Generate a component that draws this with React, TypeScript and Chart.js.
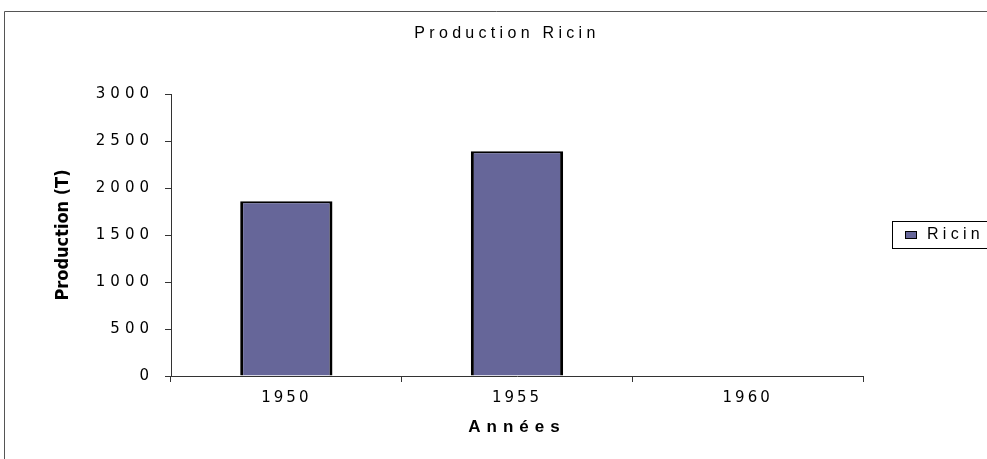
import React, { useEffect, useRef } from 'react';
import { Chart, registerables, CategoryScale, LinearScale, layouts } from 'chart.js';

// ---- data ----
const chartTitle = 'Production Ricin';
const categories = ['1950', '1955', '1960'];
const seriesLabel = 'Ricin';
const ricinValues: (number | null)[] = [1860, 2390, null];
const yAxisTitle = 'Production (T)';
const xAxisTitle = 'Années';
const yMin = 0;
const yMax = 3000;
const yStep = 500;

// ---- styles ----
const SANS = '"Liberation Sans", Arial, sans-serif';
const WIDE = '"DejaVu Sans", Verdana, sans-serif';
const NARROW = '"DejaVu Sans Condensed", "Liberation Sans Narrow", sans-serif';
const BAR_COLOR = '#666699';
const AXIS_COLOR = '#333333';
const SPACING = { title: 4.3, xTicks: 3, yTicks: 5, xTitle: 6, yTitle: 0, legend: 4.3 };

function withSpacing(ctx: any, px: number, fn: () => void) {
  ctx.save();
  ctx.letterSpacing = `${px}px`;
  fn();
  ctx.restore();
}

class SpacedCategoryScale extends CategoryScale {
  static id = 'spacedCategory';
  drawLabels(area: any) {
    withSpacing(this.ctx, SPACING.xTicks, () => super.drawLabels(area));
  }
  drawTitle() {
    withSpacing(this.ctx, SPACING.xTitle, () => super.drawTitle());
  }
}

class SpacedLinearScale extends LinearScale {
  static id = 'spacedLinear';
  drawLabels(area: any) {
    withSpacing(this.ctx, SPACING.yTicks, () => super.drawLabels(area));
  }
  drawTitle() {
    withSpacing(this.ctx, SPACING.yTitle, () => super.drawTitle());
  }
}

Chart.register(...registerables, SpacedCategoryScale, SpacedLinearScale);

// Outer frame + letter spacing for the title
const framePlugin = {
  id: 'frame',
  beforeDraw(chart: any) {
    const ctx = chart.ctx;
    ctx.save();
    ctx.fillStyle = '#ffffff';
    ctx.fillRect(0, 0, chart.width, chart.height);
    ctx.strokeStyle = '#555555';
    ctx.lineWidth = 1;
    ctx.beginPath();
    ctx.moveTo(4.5, chart.height + 2);
    ctx.lineTo(4.5, 11.5);
    ctx.lineTo(chart.width + 2, 11.5);
    ctx.stroke();
    ctx.letterSpacing = `${SPACING.title}px`;
  },
  afterDraw(chart: any) {
    chart.ctx.restore();
  },
};

// Bordered legend as a layout box on the right
const boxLegendPlugin = {
  id: 'boxLegend',
  start(chart: any) {
    const box: any = {
      position: 'right',
      weight: 1000,
      fullSize: false,
      options: { stackWeight: 1 },
      left: 0,
      top: 0,
      right: 0,
      bottom: 0,
      width: 0,
      height: 0,
      isHorizontal() {
        return false;
      },
      getPadding() {
        return { left: 0, top: 0, right: 0, bottom: 0 };
      },
      update(maxWidth: number, maxHeight: number) {
        box.width = 124;
        box.height = maxHeight;
      },
      draw() {
        const ctx = chart.ctx;
        const ds = chart.data.datasets[0];
        const area = chart.chartArea;
        const cy = Math.round((area.top + area.bottom) / 2);
        const x0 = box.left + 29;
        ctx.save();
        ctx.letterSpacing = '0px';
        ctx.strokeStyle = '#000000';
        ctx.lineWidth = 1;
        ctx.strokeRect(x0 + 0.5, cy - 13.5, 130, 27);
        ctx.fillStyle = ds.backgroundColor;
        ctx.fillRect(x0 + 13, cy - 4, 12, 8);
        ctx.strokeRect(x0 + 13.5, cy - 3.5, 11, 7);
        ctx.letterSpacing = `${SPACING.legend}px`;
        ctx.fillStyle = '#000000';
        ctx.font = `16px ${SANS}`;
        ctx.textAlign = 'left';
        ctx.textBaseline = 'middle';
        ctx.fillText(ds.label, x0 + 35, cy);
        ctx.restore();
      },
    };
    chart.$boxLegend = box;
    layouts.addBox(chart, box);
  },
  stop(chart: any) {
    if (chart.$boxLegend) layouts.removeBox(chart, chart.$boxLegend);
  },
};

export default function App() {
  const canvasRef = useRef<HTMLCanvasElement | null>(null);

  useEffect(() => {
    const canvas = canvasRef.current;
    if (!canvas) return;
    const chart = new Chart(canvas, {
      type: 'bar',
      data: {
        labels: categories,
        datasets: [
          {
            label: seriesLabel,
            data: ricinValues,
            backgroundColor: BAR_COLOR,
            borderColor: '#000000',
            borderWidth: { top: 2, left: 3, right: 3, bottom: 0 },
            barPercentage: 0.4,
            categoryPercentage: 1.0,
          },
        ],
      },
      options: {
        responsive: false,
        animation: false,
        devicePixelRatio: 1,
        layout: { padding: { left: 27, right: 0, top: 0, bottom: 0 } },
        plugins: {
          legend: { display: false },
          tooltip: { enabled: false },
          title: {
            display: true,
            text: chartTitle,
            color: '#000000',
            font: { family: SANS, size: 16, weight: 'normal' },
            padding: { top: 24, bottom: 50.8 },
          },
        },
        scales: {
          x: {
            type: 'spacedCategory',
            offset: true,
            grid: { offset: true, drawOnChartArea: false, tickLength: 6, color: AXIS_COLOR },
            border: { color: AXIS_COLOR, width: 1 },
            ticks: {
              color: '#000000',
              font: { family: WIDE, size: 15 },
              padding: 7,
              maxRotation: 0,
              autoSkip: false,
            },
            title: {
              display: true,
              text: xAxisTitle,
              color: '#000000',
              font: { family: SANS, size: 17, weight: 'bold' },
              padding: { top: 0, bottom: 21 },
            },
            afterFit(scale: any) {
              scale.height = 83;
            },
          },
          y: {
            type: 'spacedLinear',
            min: yMin,
            max: yMax,
            grid: { drawOnChartArea: false, tickLength: 6, color: AXIS_COLOR },
            border: { color: AXIS_COLOR, width: 1 },
            ticks: {
              stepSize: yStep,
              color: '#000000',
              font: { family: WIDE, size: 15 },
              padding: 11,
              callback: (v: any) => String(v),
            },
            title: {
              display: true,
              text: yAxisTitle,
              color: '#000000',
              font: { family: NARROW, size: 18, weight: 'bold' },
              padding: { top: 26, bottom: 0 },
            },
            afterFit(scale: any) {
              scale.width = 144;
            },
          },
        },
      } as any,
      plugins: [framePlugin, boxLegendPlugin],
    });
    return () => chart.destroy();
  }, []);

  return (
    <div style={{ position: 'fixed', left: 0, top: 0, width: 987, height: 459, background: '#fff' }}>
      <canvas ref={canvasRef} width={987} height={459} style={{ display: 'block' }} />
    </div>
  );
}
